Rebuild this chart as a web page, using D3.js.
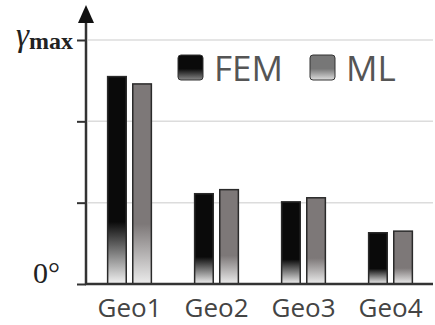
<!DOCTYPE html>
<html>
<head>
<meta charset="utf-8">
<script src="https://cdn.jsdelivr.net/npm/d3@7"></script>
<style>
  body { margin: 0; background: #fff; }
  svg { display: block; }
</style>
</head>
<body>
<svg width="435" height="325"></svg>
<script>
// values in units of gamma_max / 3 (ticks at 0..3)
const geos = ["Geo1", "Geo2", "Geo3", "Geo4"];
const series = ["FEM", "ML"];
const femValues = [2.55, 1.11, 1.01, 0.63];
const mlValues = [2.46, 1.16, 1.06, 0.65];
const yTicks = [0, 1, 2, 3];

let svg = d3.select("svg"),
  width = +svg.attr("width"),
  height = +svg.attr("height");

let x0 = d3.scaleBand().domain(geos).range([86, 434]).paddingInner(0.48).paddingOuter(0.24);
let x1 = d3.scaleBand().domain(series).range([0, x0.bandwidth()]).paddingInner(0.2);
let y = d3.scaleLinear().domain([0, 3]).range([284, 40]);

// gradients: solid on top, fading near the bottom
let defs = svg.append("defs");
function grad(id, top, bottom, stop) {
  let g = defs.append("linearGradient").attr("id", id)
    .attr("x1", 0).attr("y1", 0).attr("x2", 0).attr("y2", 1);
  g.append("stop").attr("offset", 0).attr("stop-color", top);
  g.append("stop").attr("offset", stop).attr("stop-color", top);
  g.append("stop").attr("offset", 1).attr("stop-color", bottom);
}
grad("gFEM", "#0a0a0a", "#f2f2f2", 0.7);
grad("gML", "#7d7878", "#ececec", 0.7);
grad("lFEM", "#0a0a0a", "#888", 0.55);
grad("lML", "#777", "#ddd", 0.55);

// grid lines
svg.append("g")
  .selectAll("line")
  .data(yTicks.filter(d => d > 0))
  .enter()
  .append("line")
  .attr("x1", 88).attr("x2", 433)
  .attr("y1", d => y(d)).attr("y2", d => y(d))
  .attr("stroke", "#dcdcdc")
  .attr("stroke-width", 1.5);

// bars
let rows = geos.map((g, i) => ({ geo: g, FEM: femValues[i], ML: mlValues[i] }));
svg.append("g")
  .selectAll("g")
  .data(rows)
  .enter()
  .append("g")
  .attr("transform", d => "translate(" + x0(d.geo) + ",0)")
  .selectAll("rect")
  .data(d => series.map(s => ({ key: s, value: d[s] })))
  .enter()
  .append("rect")
  .attr("x", d => x1(d.key) + 0.75)
  .attr("width", x1.bandwidth() - 1.5)
  .attr("y", d => y(d.value))
  .attr("height", d => y(0) - y(d.value))
  .attr("fill", d => "url(#g" + d.key + ")")
  .attr("stroke", "#2a2a2a")
  .attr("stroke-width", 1.5);

// y axis with left ticks
let yAxis = d3.axisLeft(y).tickValues(yTicks).tickSize(9).tickFormat("");
let ya = svg.append("g").attr("transform", "translate(86,0)").call(yAxis);
ya.select(".domain").remove();
ya.selectAll(".tick line").attr("stroke", "#333").attr("stroke-width", 2);

svg.append("line")
  .attr("x1", 86).attr("x2", 86).attr("y1", 20).attr("y2", 285)
  .attr("stroke", "#333").attr("stroke-width", 2.5);
svg.append("path")
  .attr("d", "M86,5 L94,23 L78,23 Z")
  .attr("fill", "#111");

// baseline
svg.append("line")
  .attr("x1", 85).attr("x2", 433).attr("y1", y(0)).attr("y2", y(0))
  .attr("stroke", "#333").attr("stroke-width", 2.5);

// y labels
svg.append("text")
  .attr("x", 33).attr("y", y(0) - 1)
  .attr("font-family", "Liberation Serif, serif")
  .attr("font-size", 30)
  .attr("fill", "#222")
  .text("0°");
let gm = svg.append("text")
  .attr("x", 16).attr("y", 46)
  .attr("font-family", "Liberation Serif, serif")
  .attr("fill", "#222");
gm.append("tspan").attr("font-size", 33).attr("font-style", "italic").text("γ");
gm.append("tspan").attr("font-size", 24).attr("font-weight", "bold").attr("dy", 3).text("max");

// x labels
svg.append("g")
  .selectAll("text")
  .data(geos)
  .enter()
  .append("text")
  .attr("x", d => x0(d) + x0.bandwidth() / 2)
  .attr("y", 317)
  .attr("text-anchor", "middle")
  .attr("font-family", "Open Sans, sans-serif")
  .attr("font-size", 26)
  .attr("fill", "#444")
  .text(d => d);

// legend
let legX = [178, 310];
let leg = svg.append("g")
  .selectAll("g")
  .data(series)
  .enter()
  .append("g")
  .attr("transform", (d, i) => "translate(" + legX[i] + ",55)");
leg.append("rect")
  .attr("width", 25).attr("height", 25).attr("rx", 3)
  .attr("fill", d => "url(#l" + d + ")")
  .attr("stroke", "#333").attr("stroke-width", 1);
leg.append("text")
  .attr("x", 36).attr("y", 26)
  .attr("font-family", "Open Sans, sans-serif")
  .attr("font-size", 35)
  .attr("fill", "#555")
  .text(d => d);
</script>
</body>
</html>
